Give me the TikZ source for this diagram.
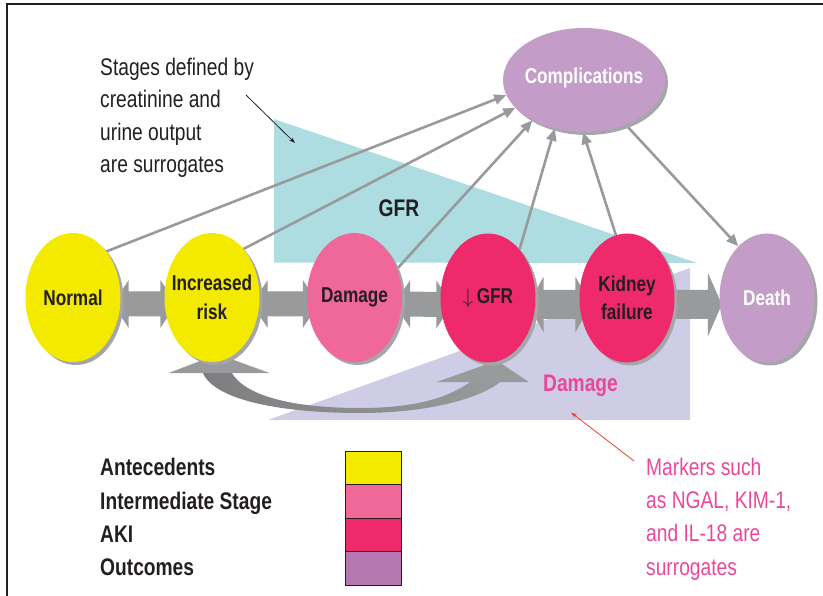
\documentclass[tikz,border=0pt]{standalone}
\usepackage{fontspec}
\setmainfont{Liberation Sans}
\newfontfamily\cond[FakeStretch=0.8]{Liberation Sans}
\usetikzlibrary{shapes.geometric,arrows.meta,calc,shadows}
\pgfdeclarelayer{back}
\pgfdeclarelayer{mid}
\pgfsetlayers{back,mid,main}
\definecolor{yel}{HTML}{F4EA00}
\definecolor{pnk}{HTML}{F0689A}
\definecolor{rd}{HTML}{EE2A6D}
\definecolor{pur}{HTML}{C39DC8}
\definecolor{legpur}{HTML}{B577B0}
\definecolor{cyanT}{HTML}{ADDDE1}
\definecolor{lavT}{HTML}{CFCDE6}
\definecolor{agray}{HTML}{999A9C}
\definecolor{bdark}{HTML}{7E7E80}
\definecolor{shgray}{HTML}{A5A6A8}
\definecolor{txt}{HTML}{231F20}
\definecolor{pinktxt}{HTML}{E9489A}
\definecolor{redarr}{HTML}{E8442E}
\begin{document}
\begin{tikzpicture}[x=1pt,y=-1pt,
  ell/.style={ellipse,minimum width=95,minimum height=129,inner sep=0pt,
    drop shadow={shadow xshift=3pt,shadow yshift=-3pt,fill=shgray,opacity=1}},
  lbl/.style={font=\cond\bfseries\fontsize{21.5}{28.5}\selectfont,text=txt,align=center,inner sep=0pt},
  gline/.style={draw=agray,line width=2.6pt,-{Triangle[length=12pt,width=10pt]}},
  legtxt/.style={font=\cond\bfseries\fontsize{24}{30}\selectfont,text=txt,inner sep=0pt,anchor=base west},
  legbox/.style={draw=txt,line width=1.3pt,minimum width=56,minimum height=33.5,inner sep=0pt,anchor=north west},
  bigarrow/.style={fill=agray,draw=none},
  ]
\useasboundingbox (0,0) rectangle (823,596);

% ellipses
\node[ell,fill=yel] (N) at (73,297.5) {};
\node[ell,fill=yel] (IR) at (212,297.5) {};
\node[ell,fill=pnk] (D) at (354.5,297.5) {};
\node[ell,fill=rd] (G) at (488,298) {};
\node[ell,fill=rd] (K) at (627,298) {};
\node[ell,fill=pur] (De) at (767,298) {};
\node[ell,fill=pur,minimum width=162,minimum height=104] (C) at (584,80) {};

\node[lbl] at (N) {Normal};
\node[lbl] at (IR) {Increased\\risk};
\node[lbl] at (D) {Damage};
\node[lbl] at (G) {$\downarrow$\,GFR};
\node[lbl] at (K) {Kidney\\failure};
\node[lbl,text=white] at (De) {Death};
\node[lbl,text=white] at ($(C)+(0,-2)$) {Complications};

% texts
\node[anchor=north west,inner sep=0pt,align=left,text=txt,font=\cond\fontsize{24}{32.5}\selectfont] (T) at (100,57.5) {Stages defined by\\creatinine and\\urine output\\are surrogates};
\node[inner sep=0pt,text=txt,font=\cond\bfseries\fontsize{24}{28}\selectfont] (GL) at (399,208.5) {GFR};
\node[inner sep=0pt,text=pinktxt,font=\cond\bfseries\fontsize{24}{28}\selectfont] (DL) at (580.5,386) {Damage};
\node[anchor=north west,inner sep=0pt,align=left,text=pinktxt,font=\cond\fontsize{24}{33.4}\selectfont] (M) at (646,457.5) {Markers such\\as NGAL, KIM-1,\\and IL-18 are\\surrogates};

% legend
\node[legtxt] (l1) at (100,475.5) {Antecedents};
\node[legtxt] (l2) at (100,509) {Intermediate Stage};
\node[legtxt] (l3) at (100,542.5) {AKI};
\node[legtxt] (l4) at (100,575.5) {Outcomes};
\node[legbox,fill=yel] (b1) at (345,450.5) {};
\node[legbox,fill=pnk] (b2) at (345,484) {};
\node[legbox,fill=rd] (b3) at (345,517.5) {};
\node[legbox,fill=legpur] (b4) at (345,551) {};

\begin{pgfonlayer}{back}
  \draw[txt,line width=2pt] (7,596) -- (7,4) -- (823,4);
  \fill[lavT] (268,420) -- (690,268) -- (690,420) -- cycle;
  \fill[cyanT] (274,119) -- (274,262.5) -- (697,263) -- cycle;
\end{pgfonlayer}

\begin{pgfonlayer}{mid}
  % connectors to complications
  \draw[gline] (N.54.8) -- (C.191);
  \draw[gline] (IR.57.8) -- (C.202.7);
  \draw[gline] (D.34) -- (C.218);
  \draw[gline] (G.57) -- (C.239.7);
  \draw[gline] (K.100) -- (C.269);
  \draw[gline] (C.313.6) -- (De.119.5);
  % thin pointer lines
  \coordinate (sA) at (246,95);
  \coordinate (sB) at (295,143);
  \draw[txt,line width=0.8pt,-{Stealth[length=6pt,width=4pt]}] (sA) -- (sB);
  \draw[redarr,line width=0.8pt,-{Stealth[length=6pt,width=4pt]}] ($(M.north west)+(-12,3.5)$) -- ($(DL.south)+(-9.5,15.5)$);
  % double arrows
  \newcommand{\dblarr}[6]{%
    \fill[bigarrow] ($(#1.east)+(-8,6.5)$) -- ++(#5,-#4) -- ++(0,#4-#3)
      -- ($(#2.west)+(#6-#5,6.5-#3)$) -- ++(0,#3-#4) -- ($(#2.west)+(#6,6.5)$)
      -- ++(-#5,#4) -- ++(0,#3-#4) -- ($(#1.east)+(-8+#5,6.5+#3)$) -- ++(0,#4-#3) -- cycle;}
  \dblarr{N}{IR}{12.5}{24}{16}{12}
  \dblarr{IR}{D}{12.5}{24}{16}{12}
  \dblarr{D}{G}{12.5}{24}{16}{12}
  \dblarr{G}{K}{14.5}{28}{16}{12}
  \fill[bigarrow] ($(K.east)+(-10,6.5-14.5)$) -- ($(De.west)+(2.5-14,6.5-14.5)$) -- ++(0,14.5-32)
      -- ($(De.west)+(2.5,6.5)$) -- ++(-14,32) -- ++(0,14.5-32) -- ($(K.east)+(-10,6.5+14.5)$) -- cycle;
  % curved return arrow
  \fill[bigarrow] ($(IR.south)+(-44,11)$) -- ($(IR.south)+(6,-8)$) -- ($(IR.south)+(58,11)$) -- cycle;
  \fill[bigarrow] ($(G.south)+(-52,19.5)$) -- ($(G.south)+(9,-2)$) -- ($(G.south)+(41,19.5)$) -- cycle;
  \coordinate (b1) at ($(IR.south)+(-9,11)$);
  \coordinate (b2) at ($(IR.south)+(20,11)$);
  \coordinate (b3) at ($(G.south)+(12,19.5)$);
  \coordinate (b4) at ($(G.south)+(-18,19.5)$);
  \coordinate (bm) at (360,413);
  \coordinate (bn) at (360,408);
  \shade[left color=bdark,right color=agray] (b1) .. controls (215,400) and (280,413) .. (bm)
     .. controls (430,413) and (480,398) .. (b3) -- (b4)
     .. controls (450,396) and (420,408) .. (bn)
     .. controls (290,408) and (245,395) .. (b2) -- cycle;
\end{pgfonlayer}
\end{tikzpicture}
\end{document}
